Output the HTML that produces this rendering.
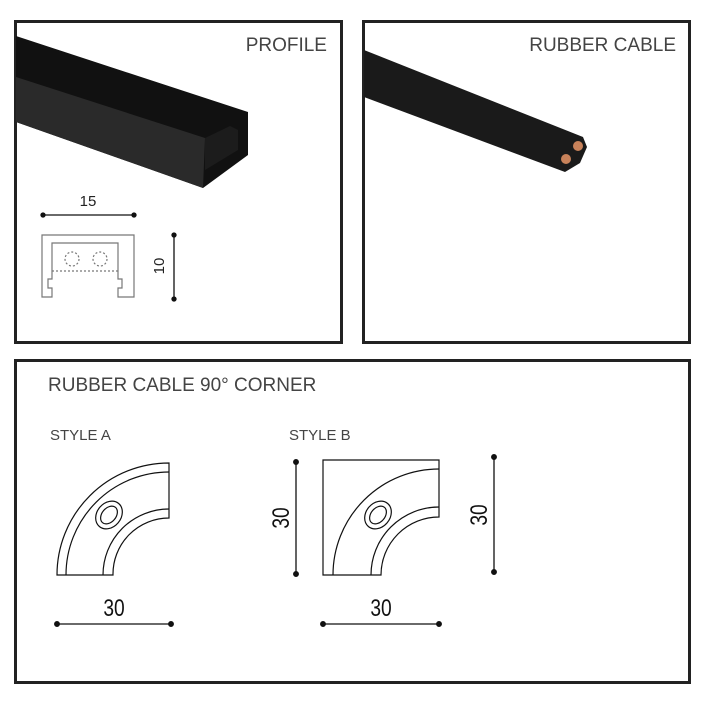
<!DOCTYPE html>
<html><head><style>
body{margin:0;background:#fff;width:705px;height:705px;overflow:hidden}
</style></head><body>
<svg width="705" height="705" viewBox="0 0 705 705" xmlns="http://www.w3.org/2000/svg" font-family="Liberation Sans, sans-serif">
<rect x="15.5" y="21.5" width="326" height="321" fill="none" stroke="#222" stroke-width="3"/>
<rect x="363.5" y="21.5" width="326" height="321" fill="none" stroke="#222" stroke-width="3"/>
<rect x="15.5" y="360.5" width="674" height="322" fill="none" stroke="#222" stroke-width="3"/>
<text x="327" y="51" font-size="19" fill="#444" text-anchor="end">PROFILE</text>
<text x="676" y="51" font-size="19" fill="#444" text-anchor="end">RUBBER CABLE</text>
<text x="48" y="391" font-size="19" fill="#444">RUBBER CABLE 90° CORNER</text>
<text x="50" y="440" font-size="15" fill="#444">STYLE A</text>
<text x="289" y="440" font-size="15" fill="#444">STYLE B</text>
<polygon points="16,36 248,112 248,155 203,188 16,122" fill="#111"/>
<polygon points="16,77 205,138 203,188 16,122" fill="#2a2a2a"/>
<polygon points="205,138 230,126 238,130 238,150 205,170" fill="#1c1c1c"/>
<g stroke="#777" fill="none" stroke-width="1.2">
<path d="M42,235 H134 V297 H118 V288 H122 V279 H118 V243 H52 V279 H48 V288 H52 V297 H42 Z"/>
<circle cx="72" cy="259" r="7" stroke-dasharray="2,2"/><circle cx="100" cy="259" r="7" stroke-dasharray="2,2"/>
<line x1="52" y1="271" x2="118" y2="271" stroke-dasharray="2,2"/>
</g>
<g stroke="#111" stroke-width="1.3" fill="#111">
<line x1="43" y1="215" x2="134" y2="215"/><circle cx="43" cy="215" r="2"/><circle cx="134" cy="215" r="2"/>
<line x1="174" y1="235" x2="174" y2="299"/><circle cx="174" cy="235" r="2"/><circle cx="174" cy="299" r="2"/>
</g>
<text x="88" y="206" font-size="15" text-anchor="middle" fill="#222">15</text>
<text transform="translate(164,266) rotate(-90)" font-size="15" text-anchor="middle" fill="#222">10</text>
<polygon points="364,50 583,137 587,147 580,163 565,172 364,97" fill="#1a1a1a"/>
<circle cx="578" cy="146" r="5" fill="#c8825a"/><circle cx="566" cy="159" r="5" fill="#c8825a"/>
<g stroke="#111" fill="none" stroke-width="1.2">
<path d="M57,575 A112,112 0 0 1 169,463 V518 A56,56 0 0 0 113,575 Z"/>
<path d="M66,575 A103,103 0 0 1 169,472"/>
<path d="M103,575 A66,66 0 0 1 169,509"/>
<ellipse cx="109" cy="515" rx="15" ry="12" transform="rotate(-50 109 515)"/>
<ellipse cx="109" cy="515" rx="10" ry="7" transform="rotate(-50 109 515)"/>
<path d="M323,575 V460 H439 V517 A58,58 0 0 0 381,575 Z"/>
<path d="M333,575 A106,106 0 0 1 439,469"/>
<path d="M371,575 A68,68 0 0 1 439,507"/>
<ellipse cx="378" cy="515" rx="15" ry="12" transform="rotate(-50 378 515)"/>
<ellipse cx="378" cy="515" rx="10" ry="7" transform="rotate(-50 378 515)"/>
</g>
<g stroke="#111" stroke-width="1.3" fill="#111">
<line x1="57" y1="624" x2="171" y2="624"/><circle cx="57" cy="624" r="2.3"/><circle cx="171" cy="624" r="2.3"/>
<line x1="323" y1="624" x2="439" y2="624"/><circle cx="323" cy="624" r="2.3"/><circle cx="439" cy="624" r="2.3"/>
<line x1="296" y1="462" x2="296" y2="574"/><circle cx="296" cy="462" r="2.3"/><circle cx="296" cy="574" r="2.3"/>
<line x1="494" y1="457" x2="494" y2="572"/><circle cx="494" cy="457" r="2.3"/><circle cx="494" cy="572" r="2.3"/>
</g>
<g font-size="24" fill="#111" text-anchor="middle">
<text transform="translate(114,616) scale(0.8,1)">30</text>
<text transform="translate(381,616) scale(0.8,1)">30</text>
<text transform="translate(289,518) rotate(-90) scale(0.8,1)">30</text>
<text transform="translate(487,515) rotate(-90) scale(0.8,1)">30</text>
</g>
</svg>
</body></html>
